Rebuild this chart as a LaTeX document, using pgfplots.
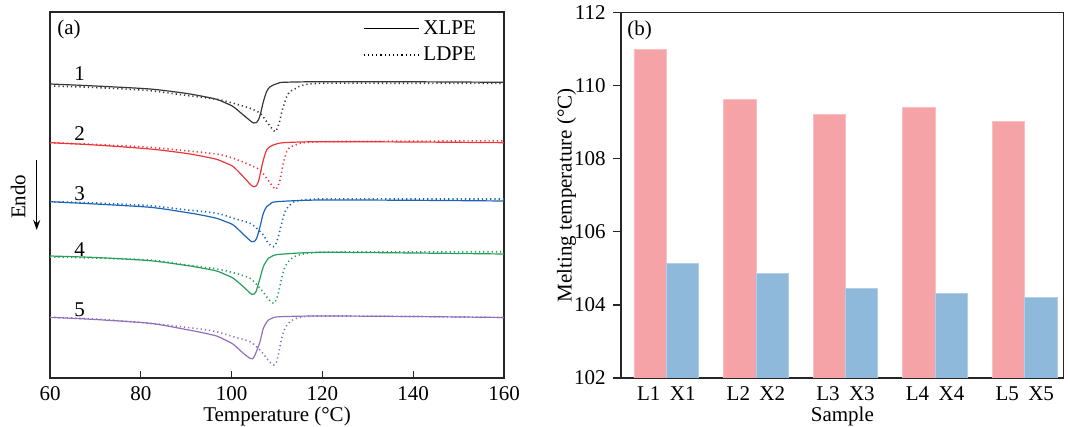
\documentclass[border=0pt]{standalone}
\usepackage{fontspec}
\setmainfont{Liberation Serif}
\usepackage{pgfplots}
\pgfplotsset{compat=1.18}
\usetikzlibrary{arrows.meta}
\definecolor{cK}{RGB}{55,55,55}
\definecolor{cR}{RGB}{236,52,58}
\definecolor{cB}{RGB}{30,100,180}
\definecolor{cG}{RGB}{40,158,92}
\definecolor{cP}{RGB}{146,112,188}
\definecolor{pinkc}{RGB}{246,163,168}
\definecolor{bluec}{RGB}{142,185,218}
\tikzset{ldpe/.style={line width=0.8pt, dash pattern=on 0.6pt off 1.5pt}}
\begin{document}
\fontsize{10.5}{12.6}\selectfont
\begin{tikzpicture}
\useasboundingbox (-25pt,-24.5pt) rectangle (510pt,189pt);
\pgfplotsset{every axis/.append style={
  /pgf/number format/assume math mode=true,
  font=\fontsize{10.5}{12.6}\selectfont,
  axis line style={line width=0.6pt, black!85},
  tick style={line width=0.6pt, black!85}}}
\begin{axis}[at={(0,0)}, anchor=south west, scale only axis,
  width=227pt, height=183pt,
  xmin=60, xmax=160, ymin=12, ymax=378, y dir=reverse,
  xtick={60,80,...,160}, ytick=\empty,
  tick align=inside, xtick pos=left, major tick length=3.5pt,
  x tick label style={yshift=-0.5pt},
  xlabel={Temperature (°C)},
  xlabel style={at={(axis description cs:0.5,0)}, yshift=-19pt, anchor=center},
  legend style={at={(0.675,1)}, anchor=north west, draw=none, fill=none,
    row sep=0.6pt, font=\fontsize{10.5}{12.6}\selectfont},
  legend cell align=left,
  legend image code/.code={\draw[#1] (0pt,0pt) -- (27.5pt,0pt);},
  smooth, tension=0.45]
% curve 1
\addplot[cK, line width=0.6pt, forget plot] coordinates {
(60,84) (70,86) (82.03,89) (89.37,93) (93.05,95.8) (96.71,99.3) (98.5,102.6) (100.38,106.7) (102.58,115)
(104.05,120.5) (104.8,123) (105.5,122.5) (106.0,119) (106.4,113) (107.0,101.7)
(107.7,91.7) (108.4,87) (109.2,85) (110.3,83.2) (111.4,82.3) (119.47,81.7) (140,81.8) (160,82.3)};
\addplot[cK, ldpe, forget plot] coordinates {
(60,86) (70,87.5) (82.03,90.7) (89.37,95) (96.71,99.3) (100.38,103.3) (104.05,108.3)
(106.26,113.3) (107.72,121.7) (108.8,128) (109.56,131.7) (110.1,128) (110.66,120)
(111.03,112) (111.39,106.7) (112.13,96.7) (112.86,91.7) (114.33,88) (115.07,86)
(119.47,83.3) (140,83.3) (160,83.3)};
% curve 2
\addplot[cR, line width=0.6pt, forget plot] coordinates {
(60,142.7) (70,145) (82.03,149) (89.37,153) (93.05,155.8) (96.71,159.3) (98.5,162.6) (100.38,166.7) (102.58,176.7)
(104.05,184) (104.79,186.7) (105.5,185.5) (106.0,180) (106.4,171.7) (106.99,160)
(107.72,150) (108.5,146.5) (109.19,145) (111.39,142.7) (119.47,141.7) (140,142) (160,142.7)};
\addplot[cR, ldpe, forget plot] coordinates {
(60,142.7) (70,144.5) (82.03,147.3) (89.37,150.5) (96.71,154) (100.38,158.3) (104.05,165)
(106.26,170) (107.72,178.3) (109.0,186) (109.78,189.3) (110.3,185) (110.66,180)
(111.03,172) (111.39,163.3) (112.13,151.7) (112.86,147.3) (114.33,144.5) (115.07,143.3)
(119.47,141.7) (140,141.2) (160,140.7)};
% curve 3
\addplot[cB, line width=0.6pt, forget plot] coordinates {
(60,201.7) (70,204) (82.03,207.3) (89.37,212) (93.05,214.8) (96.71,218.3) (98.5,221.3) (100.38,225) (102.58,234.3)
(104.05,240.5) (104.42,241.7) (105.0,241.5) (105.52,238.3) (106.26,226.7) (106.99,213.3)
(107.72,206.7) (108.5,204) (109.92,201.7) (119.47,200) (140,200.3) (160,201)};
\addplot[cB, ldpe, forget plot] coordinates {
(60,201.7) (70,203) (82.03,205.7) (89.37,209.5) (96.71,213.3) (100.38,218.3) (104.05,223.3)
(105.52,228.3) (106.99,235) (108.09,243.3) (109.19,246.7) (109.7,244.5) (110.29,236.7)
(111.03,223.3) (111.76,211.7) (112.86,205) (114.33,201) (119.47,199) (140,199) (160,199)};
% curve 4
\addplot[cG, line width=0.6pt, forget plot] coordinates {
(60,256) (70,257.5) (82.03,260.7) (89.37,265) (93.05,267.7) (96.71,271) (98.5,274.3) (100.38,278.3) (102.58,286.7)
(104.05,293) (104.42,294.3) (105.0,294) (105.37,291.7) (106.26,278.3) (106.99,266.7)
(108.09,258.3) (109.0,256) (110.66,254.3) (119.47,252.3) (140,253) (160,254)};
\addplot[cG, ldpe, forget plot] coordinates {
(60,257) (70,258) (82.03,260) (89.37,264.5) (96.71,269) (100.38,272.7) (104.05,278.3)
(106.26,288.3) (107.72,296.7) (108.6,301.5) (109.34,303.3) (109.8,300) (110.29,293.3)
(111.03,278.3) (111.76,266.7) (112.86,260) (114.33,255.7) (119.47,252.3) (140,252) (160,251.7)};
% curve 5
\addplot[cP, line width=0.6pt, forget plot] coordinates {
(60,317.3) (70,319.5) (82.03,323.3) (89.37,329) (93.05,332.2) (96.71,336) (98.5,339.8) (100.38,344.3) (102.58,353.3)
(104.05,358.3) (104.6,358.8) (105.15,355) (106.26,341.7) (106.99,328.3) (108.09,320)
(109.0,318) (110.66,316.7) (119.47,316) (140,316.5) (160,317.5)};
\addplot[cP, ldpe, forget plot] coordinates {
(60,317.3) (70,319) (82.03,323.3) (89.37,327) (93.05,329) (96.71,331.7) (100.38,336.7)
(104.05,341.7) (106.26,350) (107.72,358.3) (108.6,363) (109.34,365) (109.9,362)
(110.29,355) (111.03,338.3) (111.76,328.3) (112.86,321.7) (115.07,317.3) (119.47,316)
(140,316.5) (160,317.5)};
\addlegendimage{black, line width=0.6pt}
\addlegendentry{XLPE}
\addlegendimage{black, ldpe}
\addlegendentry{LDPE}
\node at (axis cs:66.5,73.3) {1};
\node at (axis cs:66.5,134) {2};
\node at (axis cs:66.5,193.3) {3};
\node at (axis cs:66.5,249.3) {4};
\node at (axis cs:66.5,310) {5};
\node at (axis description cs:0.042,0.953) {(a)};
\end{axis}
\draw[line width=0.6pt, -{Stealth[length=5pt,width=3.5pt]}] (-6.65pt,109pt) -- (-6.65pt,74pt);
\node[rotate=90, font=\fontsize{10.5}{12.6}\selectfont] at (-15.85pt,90.65pt) {Endo};
\begin{axis}[at={(285.5pt,0)}, anchor=south west, scale only axis,
  width=221.35pt, height=182.7pt,
  xmin=0.494, xmax=5.435, ymin=102, ymax=112,
  ytick={102,104,...,112}, xtick={1,2,3,4,5},
  xticklabels={L1\hspace{0.45em}X1, L2\hspace{0.45em}X2, L3\hspace{0.45em}X3, L4\hspace{0.45em}X4, L5\hspace{0.45em}X5},
  ytick pos=left, tick align=outside, major tick length=4pt,
  x tick style={draw=none},
  x tick label style={yshift=3.5pt},
  ybar=0pt, bar width=0.361,
  xlabel={Sample},
  xlabel style={at={(axis description cs:0.5,0)}, yshift=-19pt, anchor=center},
  ylabel={Melting temperature (°C)},
  ylabel style={at={(axis description cs:-0.1229,0.5)}, anchor=center}]
\addplot[fill=pinkc, draw=pinkc!70!white, line width=0.4pt, bar shift=-0.1805] coordinates {
(1,111.0) (2,109.62) (3,109.21) (4,109.40) (5,109.01)};
\addplot[fill=bluec, draw=bluec!70!white, line width=0.4pt, bar shift=0.1805] coordinates {
(1,105.13) (2,104.86) (3,104.45) (4,104.31) (5,104.21)};
\node at (axis description cs:0.042,0.951) {(b)};
\end{axis}
\end{tikzpicture}
\end{document}
